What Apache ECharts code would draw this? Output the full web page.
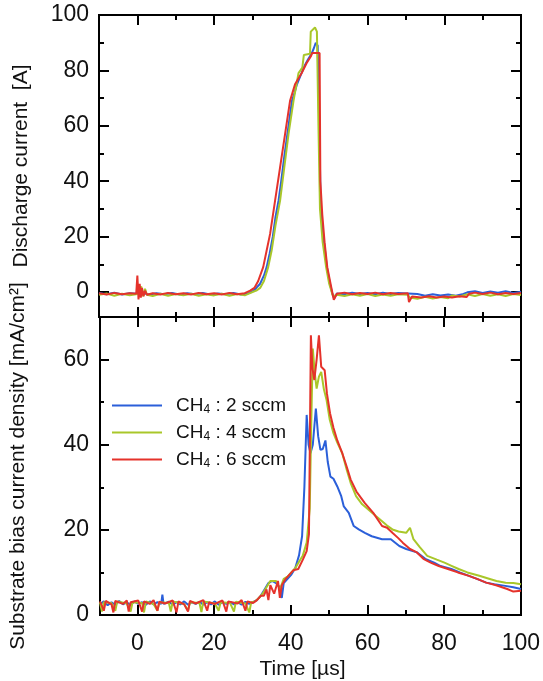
<!DOCTYPE html>
<html>
<head>
<meta charset="UTF-8" />
<title>Discharge current / substrate bias current</title>
<script src="https://cdn.jsdelivr.net/npm/echarts@6.0.0/dist/echarts.min.js"></script>
</head>
<body style="margin: 0; background: #fff">
<div id="main" style="width: 543px; height: 681px"></div>
<script type="text/javascript">
// legend names
var names = ['CH4 : 2 sccm', 'CH4 : 4 sccm', 'CH4 : 6 sccm'];

// axis ranges
var xRange = [-10, 100];
var topRange = [-9, 100];
var botRange = [0, 70];

// discharge current [A], [time µs, value]
var topBlue = [[-10,-0.3],[-8,-0.8],[-6,-0.2],[-4,-0.9],[-2,-0.4],[0,-0.6],[1,-0.2],[3,-0.9],[5,-0.4],[7,-0.8],[9,-0.3],[11,-0.9],[13,-0.4],[15,-0.8],[17,-0.3],[19,-0.9],[21,-0.5],[23,-0.8],[25,-0.3],[27,-0.9],[29,-0.4],[30,0.2],[31,1.5],[32,3],[33,6],[33.7,9],[34.5,14],[35.3,20],[36,27],[36.8,33],[37.5,40],[38.3,49],[39.1,57],[39.7,63],[40.3,69],[41,72],[41.6,75],[42.5,78],[43.7,82],[44.5,84],[45.4,86],[46,88],[46.5,90],[47,89],[47.4,60],[47.8,30],[48.5,20],[49.4,9],[50.2,3],[50.8,-0.5],[51.3,-2.3],[52,-0.5],[54,-0.8],[56,-0.2],[58,-0.7],[60,-0.3],[62,-0.8],[64,-0.2],[66,-0.7],[68,-0.3],[70.5,-0.5],[71,-1.2],[73,-0.7],[75,-1.3],[77,-0.8],[79,-1.2],[81,-0.9],[83,-1.3],[85,-0.7],[86,-0.1],[88,0.3],[90,-0.3],[92,0.2],[94,-0.2],[96,0.3],[98,-0.3],[100,0.1]];
var topGreen = [[-10,-1],[-8,-0.5],[-6,-1.3],[-4,-0.6],[-2,-1.2],[0,-0.7],[1,2],[1.5,-1.5],[2,1.2],[2.5,-1],[4,-1.4],[6,-0.6],[8,-1.3],[10,-0.7],[12,-1.2],[14,-0.6],[16,-1.3],[18,-0.8],[20,-1.2],[22,-0.6],[24,-1.3],[26,-0.7],[28,-1.2],[30,0],[31,0.5],[32,1.5],[33,4],[34.1,9],[35,15],[36,24],[37.2,33],[38.3,45],[39.4,57],[40.7,69],[42,79],[43,81],[43.4,85.6],[45,86],[45.2,94],[46.3,95.5],[46.8,94],[47.2,60],[47.6,30],[48.3,18],[49.2,9],[50,3],[51,-1.5],[52,-1],[54,-1.4],[56,-0.8],[58,-1.3],[60,-0.7],[62,-1.4],[64,-0.9],[66,-1.3],[68,-0.8],[70.5,-1],[71,-2],[73,-2.4],[75,-1.7],[77,-2.3],[79,-1.8],[81,-2.2],[82,-1.2],[84,-1.6],[86,-0.8],[88,-1.4],[90,-0.7],[92,-1.3],[94,-0.8],[96,-1.4],[98,-0.7],[100,-1.1]];
var topRed = [[-10,-0.4],[-8,-0.9],[-6,-0.3],[-4,-0.8],[-2,-0.4],[-0.3,-0.6],[0,6],[0.3,-2.7],[0.6,3],[0.9,-2],[1.2,1.5],[1.6,-1.5],[2,0.5],[2.5,-1],[4,-0.4],[6,-0.9],[8,-0.3],[10,-0.8],[12,-0.4],[14,-0.9],[16,-0.3],[18,-0.8],[20,-0.4],[22,-0.9],[24,-0.3],[26,-0.8],[28,-0.4],[29.4,0.5],[30.5,1.5],[31.5,4],[32.8,9],[33.7,15],[34.6,21],[35.9,33],[37.2,45],[38.5,57],[39.8,69],[41.1,75],[42.8,79],[44.1,82.6],[45.2,85],[45.6,86.3],[47.5,86.3],[47.7,40],[48.2,28],[48.8,18],[49.5,9],[50.5,2],[51.2,-2.8],[52,-0.6],[54,-0.2],[56,-0.8],[58,-0.3],[60,-0.7],[62,-0.2],[64,-0.8],[66,-0.3],[68,-0.7],[70.5,-0.4],[70.8,-3.6],[71.3,-3.2],[71.6,-1.6],[74,-2],[76,-1.5],[78,-2],[80,-1.6],[82,-2],[84,-1.5],[85.8,-1.8],[86.5,-0.6],[88,-0.2],[90,-0.7],[92,-0.2],[94,-0.8],[96,-0.3],[98,-0.7],[100,-0.3]];

// substrate bias current density [mA/cm2], [time µs, value]
var botBlue = [[-10,2.5],[-9,3.2],[-8,2.3],[-7,3.0],[-6,2.4],[-5,3.3],[-4,2.5],[-3,3.0],[-2,2.3],[-1,3.2],[0,2.6],[1,3.0],[2,2.4],[3,3.2],[4,2.5],[5,3.0],[6,2.6],[6.3,4.8],[6.6,2.6],[8,3.1],[9,2.4],[10,3.0],[11,2.5],[12,3.2],[13,2.4],[14,3.0],[15,2.6],[16,3.1],[17,2.4],[18,3.0],[19,2.5],[20,3.2],[21,2.4],[22,3.0],[23,2.6],[24,3.1],[25,2.5],[26,3.0],[27,2.4],[28,3.1],[29,2.6],[30,3.0],[31,3.5],[32,4.5],[33,6],[34,7.5],[35,8],[36,7.5],[37,6.5],[37.5,4],[38,7.5],[39,8.5],[40,9.5],[41,11],[42,14],[42.8,18.5],[43.4,30],[44,47],[44.5,40],[45,38],[45.6,40],[46.4,48.5],[47,42],[47.6,38.8],[48.2,39],[48.9,41],[49.5,36],[50.2,32.5],[51,32],[52,30.2],[53,28],[53.7,25.5],[55,24],[56.3,20.9],[57.6,20.1],[59.2,19.3],[61,18.5],[63.7,17.8],[66,17.8],[68.2,16.2],[70,15.5],[72.8,14.7],[75,13.2],[77.3,12.3],[79,11.5],[81.8,10.8],[84,10],[86.4,9.2],[88.5,8.5],[90.9,7.6],[93,7.2],[95.5,6.9],[98,6.5],[100,6.1]];
var botGreen = [[-10,3],[-9.5,0.8],[-9,3],[-7,2.8],[-6,1],[-5.5,3.2],[-3,2.7],[-2,0.8],[-1.5,3],[1,2.8],[1.5,0.6],[2,3.2],[4,2.6],[5,1],[5.5,3],[8,2.8],[8.5,0.8],[9,3.2],[12,2.6],[13,1],[13.5,3],[16,2.8],[16.5,0.7],[17,3.2],[20,2.7],[21,1],[21.5,3],[24,2.8],[25,0.8],[25.5,3.1],[28,2.7],[29,0.6],[29.5,3],[30.5,3.2],[31.5,4],[32.5,5],[33.5,6.5],[34.5,8],[36,8],[37,6],[38,8.5],[39,9],[40,10],[41,11],[42,12.5],[43,14],[44,17],[44.8,25],[45.2,45],[45.6,62.6],[46.1,57],[46.6,53.2],[47.2,56],[47.8,57.1],[48.5,53],[49.2,50.5],[50,46],[51,42.7],[52,40.5],[53.3,38],[54.5,34],[55.5,31],[56.9,27.9],[58.5,26],[60.1,24.8],[62,23.3],[63.7,22],[65,21],[66.4,20.1],[68,19.6],[70,19.3],[71,20.5],[71.9,17.8],[73.5,16],[75.5,13.9],[78,13],[80,12.3],[82,11.5],[83.7,10.8],[86,10],[89.1,9.2],[91,8.7],[93.6,8],[96,7.6],[98,7.5],[100,7.2]];
var botRed = [[-10,3.2],[-9,1],[-8.5,3.3],[-7,2.5],[-6.5,0.6],[-6,3.3],[-4,2.6],[-3,3.4],[-2.5,0.8],[-2,3],[0,3.4],[1,0.8],[1.5,3.2],[3,2.6],[4,3.5],[5,1],[5.5,3.1],[7,2.7],[9,3.4],[10,0.6],[10.5,3.2],[12,2.5],[13,0.8],[13.5,3.3],[15,2.7],[17,3.5],[18,1],[18.5,3],[20,2.6],[22,3.4],[23,0.8],[23.5,3.2],[26,2.7],[27,3.5],[28,1],[28.5,3.2],[30,2.8],[31,3.5],[32,4.5],[32.8,4.5],[33.5,6],[34,3.5],[34.5,7],[35.5,5],[36.5,8],[37,4],[37.5,7],[38.5,8.5],[39.5,9.5],[40.5,10.5],[41.8,10.8],[43,13],[44,15],[44.6,19],[45.1,65.7],[45.5,58],[46,55.2],[46.6,60],[47.2,65.7],[47.8,58.3],[48.7,57.5],[49.3,52],[50.1,47.4],[51,44],[52,41],[53.3,38],[54.4,35],[55.5,31.8],[57,29],[59.2,26.3],[61.4,24],[63.7,20.9],[65,20.5],[66.4,19.3],[68,18],[69.1,17],[71,15.5],[72.8,14.7],[74.5,13.2],[76.4,12.3],[78.5,11.5],[80.9,10.8],[83.5,10],[86.4,9.2],[88.5,8.5],[90.9,7.6],[93.5,7],[96.4,6.1],[98,5.5],[100,5.7]];

var colors = ['#2b5fd9', '#a9c72a', '#e5322b'];
var font = 'Liberation Sans';

// plot frames (pixels)
var L = 99, R = 22, T1 = 15, H1 = 302, T2 = 317, H2 = 298;
var pxX = (543 - L - R) / (xRange[1] - xRange[0]);
var x0 = L + (0 - xRange[0]) * pxX;                     // pixel of t = 0
var y0top = T1 + H1 * topRange[1] / (topRange[1] - topRange[0]); // pixel of 0 A
var y60bot = T2 + H2 * (botRange[1] - 60) / (botRange[1] - botRange[0]);

var chart = echarts.init(document.getElementById('main'), null, { renderer: 'canvas' });

var hidden = { axisLine: { show: false }, axisTick: { show: false }, axisLabel: { show: false }, splitLine: { show: false } };

// tick axes: min at a multiple of the interval, drawn in helper grids and shifted onto the frame
function tickAx(grid, pos, min, max, offset, labels) {
    return {
        type: 'value', gridIndex: grid, position: pos, min: min, max: max, interval: 20, offset: offset,
        axisLine: { show: false, onZero: false },
        axisTick: { show: true, inside: true, length: 10, lineStyle: { color: '#000', width: 2 } },
        minorTick: { show: true, splitNumber: 2, length: 5, lineStyle: { color: '#000', width: 2 } },
        axisLabel: labels ? { show: true, margin: 17, color: '#111', fontSize: 23, fontFamily: font } : { show: false },
        splitLine: { show: false }, minorSplitLine: { show: false }
    };
}
function dataAx(grid, range, name, gap, extra) {
    return Object.assign({
        type: 'value', gridIndex: grid, min: range[0], max: range[1],
        name: name || '', nameLocation: 'middle', nameGap: gap || 0
    }, hidden, extra || {});
}

var xAxes = [
    dataAx(0, xRange),
    dataAx(1, xRange, 'Time [µs]', 44, {
        nameTextStyle: { color: '#111', fontSize: 21, fontFamily: font, padding: [0, 16, 0, 0] }
    }),
    tickAx(2, 'bottom', 0, 100, T2 - y0top, false),
    tickAx(2, 'top', 0, 100, 0, false),
    tickAx(3, 'bottom', 0, 100, 0, true),
    tickAx(3, 'top', 0, 100, y60bot - T2, false)
];
var yAxes = [
    dataAx(0, topRange, 'Discharge current  [A]', 67, {
        nameTextStyle: { color: '#111', fontSize: 21, fontFamily: font }
    }),
    dataAx(1, botRange, 'Substrate bias current density [mA/cm²]', 71, {
        nameTextStyle: { color: '#111', fontSize: 21, fontFamily: font }
    }),
    tickAx(2, 'left', 0, 100, x0 - L, true),
    tickAx(2, 'right', 0, 100, 0, false),
    tickAx(3, 'left', 0, 60, x0 - L, true),
    tickAx(3, 'right', 0, 60, 0, false)
];
yAxes[2].axisLabel.margin = 10;
yAxes[4].axisLabel.margin = 10;

function line(name, data, ax, color) {
    return {
        name: name, type: 'line', xAxisIndex: ax, yAxisIndex: ax, data: data,
        showSymbol: false, symbol: 'none', animation: false,
        lineStyle: { color: color, width: 2 }, itemStyle: { color: color }
    };
}

var option = {
    backgroundColor: '#fff',
    animation: false,
    grid: [
        { left: L, right: R, top: T1, height: H1, show: true, borderColor: '#000', borderWidth: 2 },
        { left: L, right: R, top: T2, height: H2, show: true, borderColor: '#000', borderWidth: 2 },
        { left: x0, right: R, top: T1, height: y0top - T1 },
        { left: x0, right: R, top: y60bot, height: T2 + H2 - y60bot }
    ],
    legend: {
        data: names,
        orient: 'vertical',
        left: 107, top: 391,
        itemWidth: 50, itemHeight: 2, itemGap: 7,
        icon: 'rect',
        textStyle: {
            color: '#111', fontSize: 19, fontFamily: font, padding: [0, 0, 0, 9],
            rich: { s: { fontSize: 12, fontFamily: font, color: '#111', padding: [9, 0, 0, 0] } }
        },
        formatter: function (n) { return n.replace('CH4', 'CH{s|4}'); }
    },
    xAxis: xAxes,
    yAxis: yAxes,
    series: [
        line(names[0], topBlue, 0, colors[0]),
        line(names[1], topGreen, 0, colors[1]),
        line(names[2], topRed, 0, colors[2]),
        line(names[0], botBlue, 1, colors[0]),
        line(names[1], botGreen, 1, colors[1]),
        line(names[2], botRed, 1, colors[2])
    ]
};
chart.setOption(option);
</script>
</body>
</html>
